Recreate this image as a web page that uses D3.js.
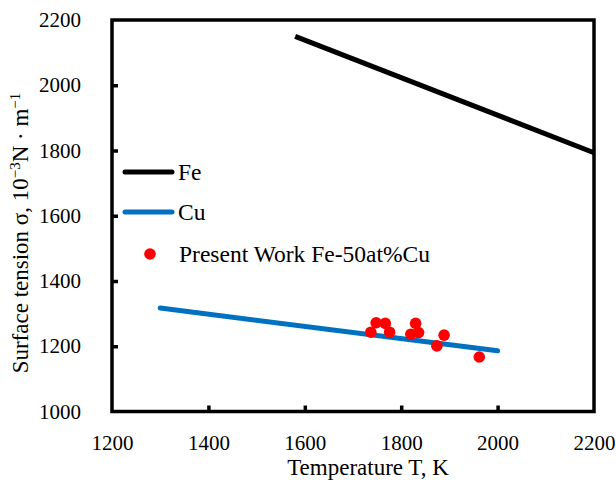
<!DOCTYPE html>
<html>
<head>
<meta charset="utf-8">
<script src="https://cdn.jsdelivr.net/npm/d3@7"></script>
<style>
  body { margin: 0; background: #fff; }
  svg text { font-family: "Liberation Serif", "Times New Roman", serif; fill: #000; }
</style>
</head>
<body>
<svg id="chart" width="616" height="480"></svg>
<script>
// data
const feT = [1580, 2200];
const feSigma = [2150, 1793];
const cuT = [1300, 2000];
const cuSigma = [1317, 1186];
const workT = [1737, 1748, 1767, 1776, 1830, 1820, 1836, 1874, 1889, 1962];
const workSigma = [1243, 1272, 1270, 1243, 1270, 1237, 1242, 1201, 1234, 1167];
const xTicks = [1200, 1400, 1600, 1800, 2000, 2200];
const yTicks = [1000, 1200, 1400, 1600, 1800, 2000, 2200];

const svg = d3.select('#chart');
const plotLeft = 112, plotRight = 594, plotTop = 20, plotBottom = 411.5;

const x = d3.scaleLinear().domain([1200, 2200]).range([plotLeft, plotRight]);
const y = d3.scaleLinear().domain([1000, 2200]).range([plotBottom, plotTop]);

const line = d3.line().x(d => x(d[0])).y(d => y(d[1]));

// frame
svg.append('rect')
    .attr('x', plotLeft).attr('y', plotTop)
    .attr('width', plotRight - plotLeft).attr('height', plotBottom - plotTop)
    .attr('fill', 'none').attr('stroke', '#000').attr('stroke-width', 3.5);

// axes with inward ticks
const xAxis = svg.append('g')
    .attr('transform', `translate(0,${plotBottom})`)
    .call(d3.axisBottom(x).tickValues(xTicks).tickFormat(d3.format('d'))
        .tickSize(-6).tickPadding(24));
const yAxis = svg.append('g')
    .attr('transform', `translate(${plotLeft},0)`)
    .call(d3.axisLeft(y).tickValues(yTicks).tickFormat(d3.format('d'))
        .tickSize(-6).tickPadding(31));

[xAxis, yAxis].forEach(g => {
    g.select('.domain').remove();
    g.selectAll('line').attr('stroke', '#000').attr('stroke-width', 3.5);
    g.selectAll('text').style('font-size', '21px')
        .style('font-family', '"Liberation Serif", serif');
});
xAxis.selectAll('line').filter(d => d === 1200 || d === 2200).remove();
yAxis.selectAll('line').filter(d => d === 1000 || d === 2200).remove();

// series
svg.append('path')
    .datum(d3.zip(feT, feSigma))
    .attr('d', line)
    .attr('fill', 'none').attr('stroke', '#000').attr('stroke-width', 5);

svg.append('path')
    .datum(d3.zip(cuT, cuSigma))
    .attr('d', line)
    .attr('fill', 'none').attr('stroke', '#0070C0').attr('stroke-width', 5)
    .attr('stroke-linecap', 'round');

svg.append('g').selectAll('circle')
    .data(d3.zip(workT, workSigma))
    .enter()
    .append('circle')
    .attr('cx', d => x(d[0]))
    .attr('cy', d => y(d[1]))
    .attr('r', 5.8)
    .attr('fill', '#FF0000');

// legend
const legend = svg.append('g');
[['Fe', '#000', 172], ['Cu', '#0070C0', 212]].forEach(([name, color, ly]) => {
    legend.append('line')
        .attr('x1', 125).attr('x2', 172).attr('y1', ly).attr('y2', ly)
        .attr('stroke', color).attr('stroke-width', 5).attr('stroke-linecap', 'round');
    legend.append('text')
        .attr('x', 178).attr('y', ly + 8)
        .style('font-size', '23.5px')
        .text(name);
});
legend.append('circle')
    .attr('cx', 150).attr('cy', 254).attr('r', 5.8).attr('fill', '#FF0000');
legend.append('text')
    .attr('x', 179).attr('y', 262)
    .style('font-size', '23.5px')
    .text('Present Work Fe-50at%Cu');

// axis titles
svg.append('text')
    .attr('x', (plotLeft + plotRight) / 2 + 15).attr('y', 475)
    .attr('text-anchor', 'middle')
    .style('font-size', '23px')
    .text('Temperature T, K');

const yTitle = svg.append('text')
    .attr('transform', 'translate(28,233) rotate(-90)')
    .attr('text-anchor', 'middle')
    .style('font-size', '23px');
yTitle.append('tspan').text('Surface tension σ, 10');
yTitle.append('tspan').attr('dy', -8).style('font-size', '15px').text('−3');
yTitle.append('tspan').attr('dy', 8).text('N · m');
yTitle.append('tspan').attr('dy', -8).style('font-size', '15px').text('−1');
</script>
</body>
</html>
